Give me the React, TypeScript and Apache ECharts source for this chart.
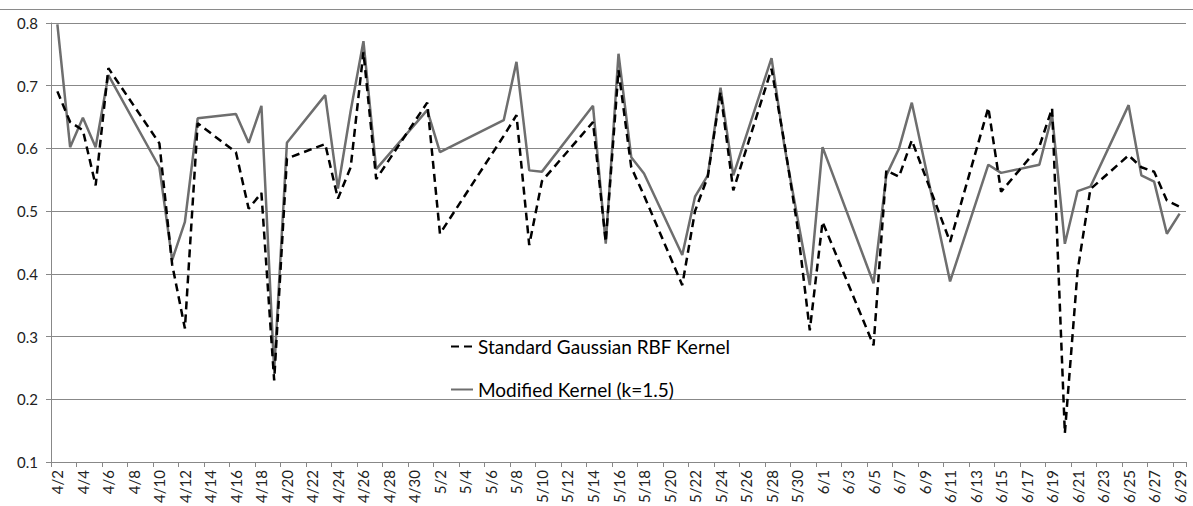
import React, { useEffect, useRef } from "react";
import * as echarts from "echarts";

// Trading days that carry a value (month/day)
const tradeDates = [
  "4/2", "4/3", "4/4", "4/5", "4/6",
  "4/10", "4/11", "4/12", "4/13",
  "4/16", "4/17", "4/18", "4/19", "4/20",
  "4/23", "4/24", "4/25", "4/26", "4/27",
  "5/1", "5/2",
  "5/7", "5/8", "5/9", "5/10",
  "5/14", "5/15", "5/16", "5/17", "5/18",
  "5/21", "5/22", "5/23", "5/24", "5/25",
  "5/28", "5/29", "5/30", "5/31", "6/1",
  "6/5", "6/6", "6/7", "6/8",
  "6/11", "6/14", "6/15",
  "6/18", "6/19", "6/20", "6/21", "6/22",
  "6/25", "6/26", "6/27", "6/28", "6/29",
];

const standardRbf = [
  0.691, 0.642, 0.629, 0.541, 0.728,
  0.608, 0.415, 0.313, 0.64,
  0.594, 0.504, 0.529, 0.23, 0.584,
  0.607, 0.52, 0.57, 0.754, 0.551,
  0.673, 0.464,
  0.62, 0.653, 0.446, 0.548,
  0.642, 0.451, 0.725, 0.57, 0.525,
  0.382, 0.5, 0.555, 0.69, 0.533,
  0.727, 0.61, 0.48, 0.31, 0.483,
  0.286, 0.565, 0.555, 0.613,
  0.451, 0.665, 0.531,
  0.603, 0.664, 0.146, 0.405, 0.535,
  0.589, 0.57, 0.563, 0.517, 0.507,
];

const modifiedKernel = [
  0.798, 0.602, 0.649, 0.602, 0.717,
  0.57, 0.422, 0.483, 0.648,
  0.655, 0.609, 0.668, 0.246, 0.609,
  0.685, 0.536, 0.66, 0.771, 0.567,
  0.661, 0.594,
  0.645, 0.738, 0.565, 0.563,
  0.668, 0.448, 0.751, 0.586, 0.56,
  0.43, 0.523, 0.557, 0.697, 0.557,
  0.744, 0.605, 0.493, 0.382, 0.602,
  0.385, 0.557, 0.6, 0.673,
  0.388, 0.574, 0.561,
  0.574, 0.653, 0.448, 0.532, 0.539,
  0.669, 0.557, 0.547, 0.464, 0.496,
];

// Calendar span of the date axis: [month, first day, last day]
const monthSpans: [number, number, number][] = [
  [4, 2, 30],
  [5, 1, 31],
  [6, 1, 29],
];

const seriesNames = ["Standard Gaussian RBF Kernel", "Modified Kernel (k=1.5)"];

const Y_MIN = 0.1;
const Y_MAX = 0.8;
const Y_STEP = 0.1;

const FONT = "Lato, 'Open Sans', sans-serif";

function calendarDays(): string[] {
  const days: string[] = [];
  for (const [m, first, last] of monthSpans) {
    for (let d = first; d <= last; d++) days.push(`${m}/${d}`);
  }
  return days;
}

function alignToCalendar(days: string[], values: number[]): (number | null)[] {
  const byDate = new Map<string, number>();
  tradeDates.forEach((d, i) => byDate.set(d, values[i]));
  return days.map((d) => (byDate.has(d) ? (byDate.get(d) as number) : null));
}

export default function App() {
  const ref = useRef<HTMLDivElement>(null);

  useEffect(() => {
    if (!ref.current) return;
    const chart = echarts.init(ref.current, null, { renderer: "svg" });
    const days = calendarDays();

    chart.setOption({
      animation: false,
      backgroundColor: "#ffffff",
      grid: { left: 51, right: 7, top: 23, bottom: 44, containLabel: false },
      graphic: [
        {
          type: "line",
          shape: { x1: 0, y1: 9.5, x2: 1193, y2: 9.5 },
          style: { stroke: "#8a8a8a", lineWidth: 1 },
          silent: true,
        },
      ],
      legend: {
        orient: "vertical",
        left: 450,
        top: 337,
        itemWidth: 22,
        itemHeight: 20,
        itemGap: 24,
        padding: 0,
        itemStyle: { opacity: 0 },
        textStyle: { fontFamily: FONT, fontSize: 19, color: "#000" },
        data: seriesNames,
      },
      xAxis: {
        type: "category",
        data: days,
        boundaryGap: true,
        axisLine: { show: true, lineStyle: { color: "#888", width: 1 } },
        axisTick: { show: true, interval: 1, length: 5, lineStyle: { color: "#888" } },
        axisLabel: {
          interval: 1,
          rotate: 90,
          margin: 8,
          fontFamily: FONT,
          fontSize: 15,
          color: "#222",
        },
        splitLine: { show: false },
      },
      yAxis: {
        type: "value",
        min: Y_MIN,
        max: Y_MAX,
        interval: Y_STEP,
        axisLine: { show: true, lineStyle: { color: "#888", width: 1 } },
        axisTick: { show: true, length: 5, lineStyle: { color: "#888" } },
        axisLabel: {
          margin: 13,
          fontFamily: FONT,
          fontSize: 15,
          color: "#222",
          formatter: (v: number) => v.toFixed(1),
        },
        splitLine: { show: true, lineStyle: { color: "#888", width: 1 } },
      },
      series: [
        {
          name: seriesNames[0],
          type: "line",
          data: alignToCalendar(days, standardRbf),
          connectNulls: true,
          symbol: "none",
          lineStyle: { color: "#000", width: 2.5, type: [8, 5] },
          itemStyle: { color: "#000" },
          z: 3,
        },
        {
          name: seriesNames[1],
          type: "line",
          data: alignToCalendar(days, modifiedKernel),
          connectNulls: true,
          symbol: "none",
          lineStyle: { color: "#6e6e6e", width: 2.5, type: "solid" },
          itemStyle: { color: "#6e6e6e" },
          z: 2,
        },
      ],
    });

    return () => chart.dispose();
  }, []);

  return (
    <div
      ref={ref}
      style={{ position: "fixed", left: 0, top: 0, width: 1193, height: 506, background: "#fff" }}
    />
  );
}
